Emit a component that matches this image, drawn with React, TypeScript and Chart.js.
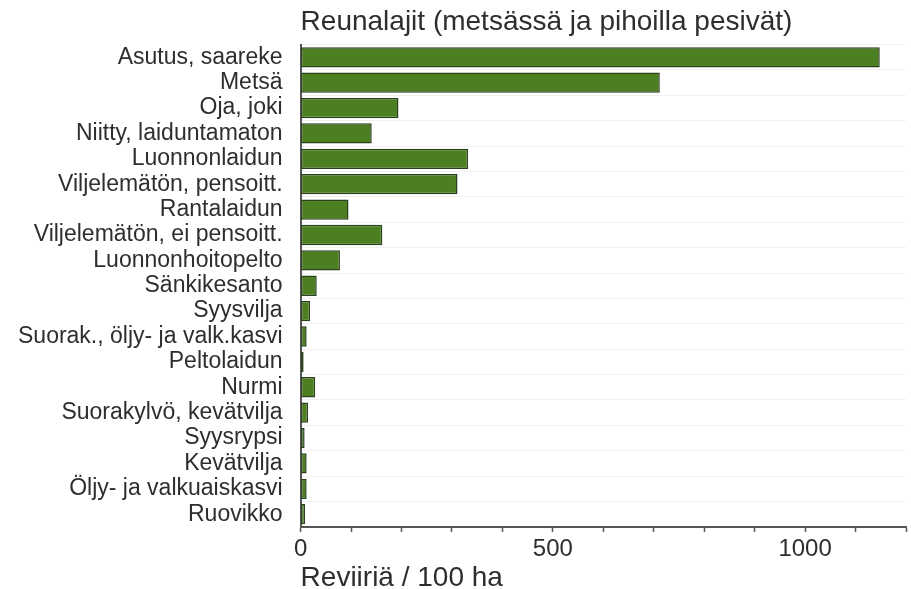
import React, { useEffect, useRef } from "react";
import { Chart, registerables } from "chart.js";

Chart.register(...registerables);

const categories = [
  "Asutus, saareke",
  "Metsä",
  "Oja, joki",
  "Niitty, laiduntamaton",
  "Luonnonlaidun",
  "Viljelemätön, pensoitt.",
  "Rantalaidun",
  "Viljelemätön, ei pensoitt.",
  "Luonnonhoitopelto",
  "Sänkikesanto",
  "Syysvilja",
  "Suorak., öljy- ja valk.kasvi",
  "Peltolaidun",
  "Nurmi",
  "Suorakylvö, kevätvilja",
  "Syysrypsi",
  "Kevätvilja",
  "Öljy- ja valkuaiskasvi",
  "Ruovikko",
];

const territories = [1148, 712, 194, 141, 332, 311, 95, 162, 78, 32, 19, 12, 6, 29, 15, 8, 12, 12, 9];

const majorTicks = [0, 500, 1000];

const chartTitle = "Reunalajit (metsässä ja pihoilla pesivät)";
const axisTitle = "Reviiriä / 100 ha";

const FONT = "'Liberation Sans', Arial, Helvetica, sans-serif";
const TEXT = "#2e2e2e";
const AXIS = "#555555";

export default function App() {
  const ref = useRef<HTMLCanvasElement | null>(null);

  useEffect(() => {
    document.body.style.margin = "0";
    if (!ref.current) return;
    const chart = new Chart(ref.current, {
      type: "bar",
      data: {
        labels: categories,
        datasets: [
          {
            data: territories,
            backgroundColor: "#4b7f1f",
            borderColor: "#2b401c",
            borderWidth: 1.5,
            borderSkipped: false,
            categoryPercentage: 1,
            barPercentage: 0.8,
          },
        ],
      },
      options: {
        indexAxis: "y",
        animation: false,
        responsive: true,
        maintainAspectRatio: false,
        layout: { padding: { top: 0, right: 1, bottom: 0, left: 0 } },
        plugins: {
          legend: { display: false },
          tooltip: { enabled: false },
          title: {
            display: true,
            text: chartTitle,
            align: "start",
            fullSize: false,
            color: TEXT,
            font: { family: FONT, size: 28, weight: "normal", lineHeight: 1.2 },
            padding: { top: 5, bottom: 6 },
          },
        },
        scales: {
          x: {
            type: "linear",
            min: 0,
            max: 1200,
            ticks: {
              stepSize: 100,
              autoSkip: false,
              maxRotation: 0,
              color: TEXT,
              padding: 5,
              font: { family: FONT, size: 24, lineHeight: 1 },
              callback: (v: any) => (majorTicks.includes(Number(v)) ? String(v) : ""),
            },
            grid: {
              drawOnChartArea: false,
              drawTicks: true,
              tickLength: 5,
              tickColor: AXIS,
              tickWidth: 1.5,
            },
            border: { display: true, color: AXIS, width: 2 },
            title: {
              display: true,
              text: axisTitle,
              align: "start",
              color: TEXT,
              font: { family: FONT, size: 28, lineHeight: 0.79 },
              padding: { top: 1, bottom: 0 },
            },
          },
          y: {
            ticks: {
              autoSkip: false,
              color: TEXT,
              padding: 18,
              font: { family: FONT, size: 23, lineHeight: 1 },
            },
            grid: {
              color: "#f0f0f0",
              drawTicks: false,
              offset: true,
            },
            border: { display: true, color: AXIS, width: 2 },
          },
        },
      },
    });
    return () => chart.destroy();
  }, []);

  return (
    <div style={{ width: 911, height: 589, position: "relative" }}>
      <canvas ref={ref} />
    </div>
  );
}
